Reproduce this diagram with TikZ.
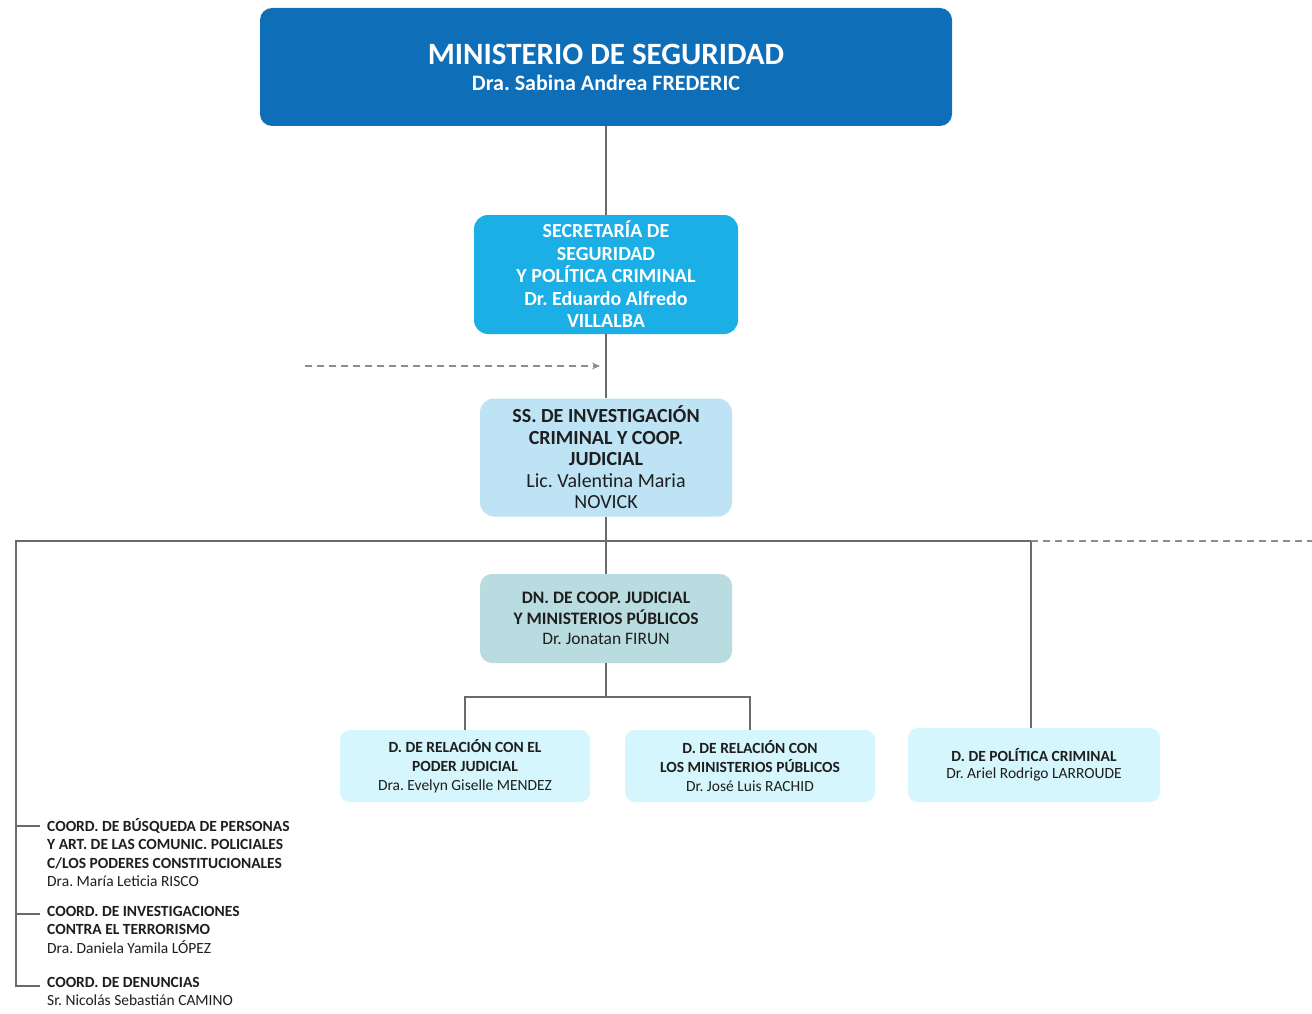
\documentclass[tikz,border=0pt]{standalone}
\usepackage{fontspec}
\setmainfont{Carlito}
\usetikzlibrary{arrows.meta}
\frenchspacing
\definecolor{cmin}{HTML}{0E6EB8}
\definecolor{csec}{HTML}{1BAFE6}
\definecolor{css}{HTML}{BEE3F5}
\definecolor{cdn}{HTML}{B8DCE0}
\definecolor{cd}{HTML}{D5F6FC}
\definecolor{lineg}{HTML}{6A6A6A}
\definecolor{dashg}{HTML}{8C8C8C}
\definecolor{txt}{HTML}{1E1E1E}
\begin{document}
\begin{tikzpicture}[x=1pt,y=-1pt,
  box/.style={rounded corners=12pt, align=center, inner sep=0pt},
  ln/.style={draw=lineg, line width=1.3pt},
  dln/.style={draw=dashg, line width=1.3pt, dash pattern=on 7pt off 5pt},
  coord/.style={anchor=north west, align=left, inner sep=0pt, text=txt, font=\fontsize{15.5}{18.5}\selectfont}]
\useasboundingbox[fill=white] (0,0) rectangle (1312,1014);
% boxes
\node[box, fill=cmin, minimum width=692pt, minimum height=118pt, text=white,
  font=\fontsize{22}{26}\selectfont\bfseries] (min) at (606,67)
  {{\fontsize{31}{31}\selectfont MINISTERIO DE SEGURIDAD}\\
   Dra. Sabina Andrea FREDERIC};
\node[box, rounded corners=14pt, fill=csec, minimum width=264pt, minimum height=119pt, text=white,
  font=\fontsize{20}{22.5}\selectfont\bfseries] (sec) at (606,274.5)
  {SECRETARÍA DE\\SEGURIDAD\\Y POLÍTICA CRIMINAL\\Dr. Eduardo Alfredo\\VILLALBA};
\node[box, rounded corners=14pt, fill=css, minimum width=252pt, minimum height=118pt, text=txt,
  font=\fontsize{20}{21.5}\selectfont] (ss) at (606,457.5)
  {\bfseries SS. DE INVESTIGACIÓN\\\bfseries CRIMINAL Y COOP.\\\bfseries JUDICIAL\\Lic. Valentina Maria\\NOVICK};
\node[box, rounded corners=12pt, fill=cdn, minimum width=252pt, minimum height=89pt, text=txt,
  font=\fontsize{17.5}{20.5}\selectfont] (dn) at (606,618.5)
  {\bfseries DN. DE COOP. JUDICIAL\\\bfseries Y MINISTERIOS PÚBLICOS\\Dr. Jonatan FIRUN};
\node[box, rounded corners=10pt, fill=cd, minimum width=250pt, minimum height=72pt, text=txt,
  font=\fontsize{15.5}{19}\selectfont] (d1) at (465,766)
  {\bfseries D. DE RELACIÓN CON EL\\\bfseries PODER JUDICIAL\\Dra. Evelyn Giselle MENDEZ};
\node[box, rounded corners=10pt, fill=cd, minimum width=250pt, minimum height=72pt, text=txt,
  font=\fontsize{15.5}{19}\selectfont] (d2) at (750,766)
  {\bfseries D. DE RELACIÓN CON\\\bfseries LOS MINISTERIOS PÚBLICOS\\Dr. José Luis RACHID};
\node[box, rounded corners=10pt, fill=cd, minimum width=252pt, minimum height=74pt, text=txt,
  font=\fontsize{15.5}{17.5}\selectfont] (d3) at (1034,765)
  {\bfseries D. DE POLÍTICA CRIMINAL\\Dr. Ariel Rodrigo LARROUDE};
% left coordinations
\node[coord] (c1) at (47,818)
  {\bfseries COORD. DE BÚSQUEDA DE PERSONAS\\\bfseries Y ART. DE LAS COMUNIC. POLICIALES\\\bfseries C/LOS PODERES CONSTITUCIONALES\\Dra. María Leticia RISCO};
\node[coord] (c2) at (47,906)
  {\bfseries COORD. DE INVESTIGACIONES\\\bfseries CONTRA EL TERRORISMO\\Dra. Daniela Yamila LÓPEZ};
\node[coord] (c3) at (47,977)
  {\bfseries COORD. DE DENUNCIAS\\Sr. Nicolás Sebastián CAMINO};
% coordinates
\coordinate (L) at (16,541);
\coordinate (R) at (1031,541);
\coordinate (E) at (1312,541);
\coordinate (t1) at (16,826);
\coordinate (t2) at (16,914);
\coordinate (t3) at (16,986);
\coordinate (da) at (305,366);
\coordinate (db) at (600,366);
\coordinate (br) at (606,697);
% connectors
\draw[ln] (min.south) -- (sec.north);
\draw[ln] (sec.south) -- (ss.north);
\draw[ln] (ss.south) -- (dn.north);
\draw[ln] (dn.south) -- (br);
\draw[ln] (d1.north) -- (d1.north |- br) -- (d2.north |- br) -- (d2.north);
\draw[ln] (R) -- (L) -- (t3) -- ++(24,0);
\draw[ln] (t1) -- ++(24,0);
\draw[ln] (t2) -- ++(24,0);
\draw[ln] (R) -- (R |- d3.north);
\draw[dln] (R) -- (E);
\draw[dln, -{Stealth[length=8pt,width=7pt]}] (da) -- (db);
\end{tikzpicture}
\end{document}
